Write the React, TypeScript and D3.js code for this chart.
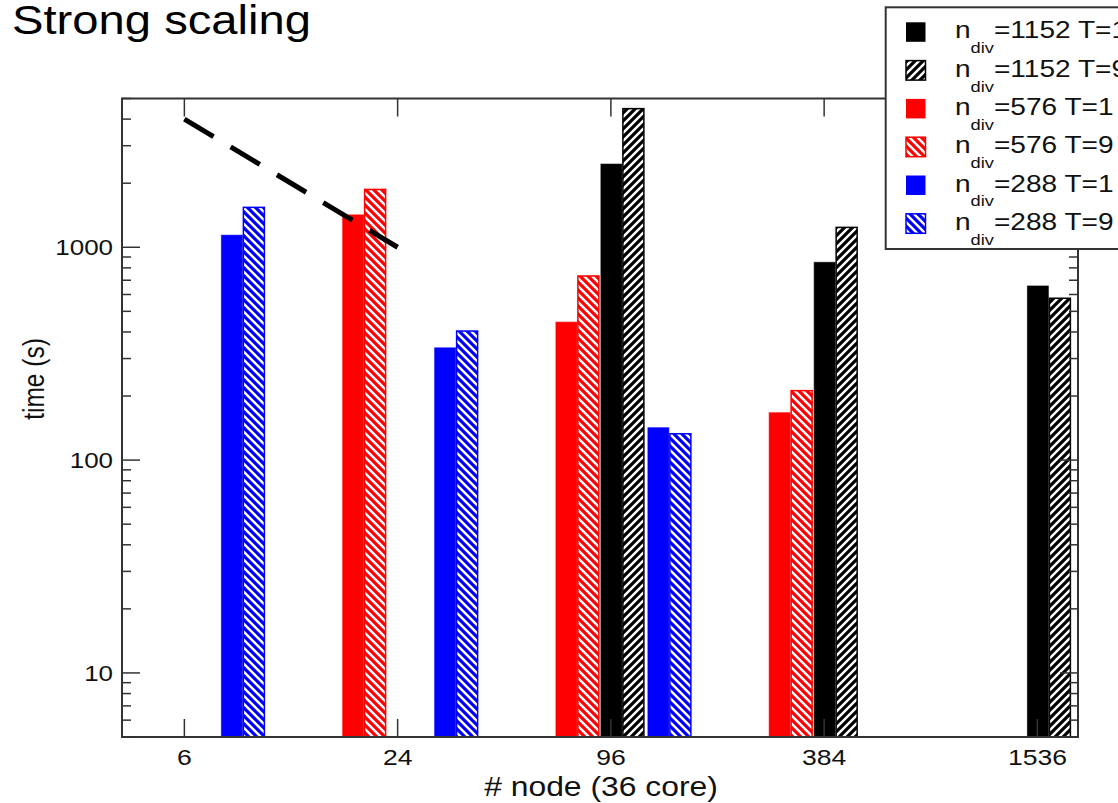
import React from "react";
import * as d3 from "d3";

// ---------- data ----------
const nodes = [6, 24, 96, 384, 1536];
const nodeLabels = ["6", "24", "96", "384", "1536"];
const ndiv1152T1 = [null, null, 2460, 850, 658];
const ndiv1152T9 = [null, null, 4480, 1240, 576];
const ndiv576T1 = [null, 1420, 445, 167, null];
const ndiv576T9 = [null, 1870, 733, 212, null];
const ndiv288T1 = [1140, 337, 142, null, null];
const ndiv288T9 = [1540, 404, 133, null, null];
const idealNodes = [6, 24];
const idealTimes = [4000, 1000];
const yMajorTicks = [10, 100, 1000];
const yMajorLabels = ["10", "100", "1000"];

const seriesList = [
  { key: "1152T1", ndiv: "1152", T: "1", values: ndiv1152T1 },
  { key: "1152T9", ndiv: "1152", T: "9", values: ndiv1152T9 },
  { key: "576T1", ndiv: "576", T: "1", values: ndiv576T1 },
  { key: "576T9", ndiv: "576", T: "9", values: ndiv576T9 },
  { key: "288T1", ndiv: "288", T: "1", values: ndiv288T1 },
  { key: "288T9", ndiv: "288", T: "9", values: ndiv288T9 },
];

// ---------- layout / style ----------
const W = 1118;
const H = 803;
const M = { left: 122, right: 1078, top: 98.5, bottom: 737 };
const colors: Record<string, string> = { "1152": "#000000", "576": "#ff0000", "288": "#0000ff" };
const hatchDir: Record<string, string> = { "1152": "fwd", "576": "back", "288": "back" };
const pairOffset: Record<string, number> = { "576": -55, "1152": -10, "288": 37 };
const barStep = 22;
const barW = 21;
const SX = 1.18; // horizontal text stretch
const FONT = "'Liberation Sans', Arial, Helvetica, sans-serif";

function T({ x, y, size, anchor = "start", rotate = 0, children, fill = "#111" }: any) {
  const tr = `translate(${x},${y}) scale(${SX},1)` + (rotate ? ` rotate(${rotate})` : "");
  return (
    <text transform={tr} fontSize={size} textAnchor={anchor} fill={fill} fontFamily={FONT}>
      {children}
    </text>
  );
}

export default function App() {
  const x = d3.scaleLog().domain([4, 2000]).range([M.left, M.right]);
  const y = d3.scaleLog().domain([5, 5000]).range([M.bottom, M.top]);
  const yTicks = y.ticks();
  const isMajor = (v: number) => Math.abs(Math.log10(v) - Math.round(Math.log10(v))) < 1e-9;

  const line = d3
    .line<number>()
    .x((_, i) => x(idealNodes[i]))
    .y((d) => y(d));

  const legendX = 885.7;
  const legendTop = 7.3;
  const legendBottom = 249;
  const rowY0 = 32.3;
  const rowDy = 38.3;

  const patternId = (ndiv: string) => `hatch-${ndiv}`;

  return (
    <svg
      width={W}
      height={H}
      style={{ position: "absolute", left: 0, top: 0, background: "#fff", overflow: "hidden" }}
    >
      <defs>
        {Object.keys(colors).map((nd) => (
          <pattern
            key={nd}
            id={patternId(nd)}
            patternUnits="userSpaceOnUse"
            width={8}
            height={8}
          >
            <rect width={8} height={8} fill="#fff" />
            {hatchDir[nd] === "back" ? (
              <path d="M-2,-2 L10,10 M-6,2 L2,10 M6,-2 L10,2" stroke={colors[nd]} strokeWidth={3.2} />
            ) : (
              <path d="M-2,10 L10,-2 M-6,6 L2,-2 M6,10 L10,6" stroke={colors[nd]} strokeWidth={3.2} />
            )}
          </pattern>
        ))}
      </defs>
      <rect x={0} y={0} width={W} height={H} fill="#fff" />

      {/* title */}
      <T x={12} y={34} size={40} fill="#000">Strong scaling</T>

      {/* bars */}
      {seriesList.map((s) =>
        s.values.map((v, i) => {
          if (v == null) return null;
          const x0 = x(nodes[i]) + pairOffset[s.ndiv] + (s.T === "9" ? barStep : 0);
          const yt = y(v);
          const hatched = s.T === "9";
          return (
            <rect
              key={s.key + i}
              x={x0}
              y={yt}
              width={barW}
              height={M.bottom - yt}
              fill={hatched ? `url(#${patternId(s.ndiv)})` : colors[s.ndiv]}
              stroke={colors[s.ndiv]}
              strokeWidth={hatched ? 1.5 : 1}
              strokeOpacity={hatched ? 1 : 0.6}
            />
          );
        })
      )}

      {/* ideal scaling line */}
      <path
        d={line(idealTimes) || ""}
        fill="none"
        stroke="#000"
        strokeWidth={5}
        strokeDasharray="34 20"
      />

      {/* frame */}
      <rect
        x={M.left}
        y={M.top}
        width={M.right - M.left}
        height={M.bottom - M.top}
        fill="none"
        stroke="#333"
        strokeWidth={2}
      />

      {/* y ticks */}
      {yTicks.map((t) => {
        const len = isMajor(t) ? 18 : 9;
        const yy = y(t);
        return (
          <g key={"yt" + t}>
            <line x1={M.left} x2={M.left + len} y1={yy} y2={yy} stroke="#333" strokeWidth={1.5} />
            <line x1={M.right} x2={M.right - len} y1={yy} y2={yy} stroke="#333" strokeWidth={1.5} />
          </g>
        );
      })}
      {yMajorTicks.map((t, i) => (
        <T key={"yl" + t} x={113} y={y(t) + 8} size={22} anchor="end">
          {yMajorLabels[i]}
        </T>
      ))}

      {/* x ticks */}
      {nodes.map((n, i) => (
        <g key={"xt" + n}>
          <line x1={x(n)} x2={x(n)} y1={M.bottom} y2={M.bottom - 18} stroke="#333" strokeWidth={1.5} />
          <line x1={x(n)} x2={x(n)} y1={M.top} y2={M.top + 18} stroke="#333" strokeWidth={1.5} />
          <T x={x(n)} y={765} size={22.5} anchor="middle">
            {nodeLabels[i]}
          </T>
        </g>
      ))}

      {/* axis titles */}
      <T x={601} y={796} size={27} anchor="middle">
        # node (36 core)
      </T>
      <T x={44} y={379} size={24.5} anchor="middle" rotate={-90}>
        time (s)
      </T>

      {/* legend */}
      <rect
        x={legendX}
        y={legendTop}
        width={W - legendX + 20}
        height={legendBottom - legendTop}
        fill="#fff"
        stroke="#333"
        strokeWidth={2}
      />
      {seriesList.map((s, i) => {
        const cy = rowY0 + i * rowDy;
        const hatched = s.T === "9";
        return (
          <g key={"lg" + s.key}>
            <rect
              x={906}
              y={cy - 10}
              width={19.5}
              height={19.5}
              fill={hatched ? `url(#${patternId(s.ndiv)})` : colors[s.ndiv]}
              stroke={colors[s.ndiv]}
              strokeWidth={hatched ? 1.5 : 0}
            />
            <text
              transform={`translate(955,${cy + 6}) scale(1.22,1)`}
              fontSize={23}
              fontFamily={FONT}
              fill="#111"
            >
              <tspan>n</tspan>
              <tspan dy={15} fontSize={15}>
                div
              </tspan>
              <tspan dy={-15}>{`=${s.ndiv} T=${s.T}`}</tspan>
            </text>
          </g>
        );
      })}
    </svg>
  );
}
